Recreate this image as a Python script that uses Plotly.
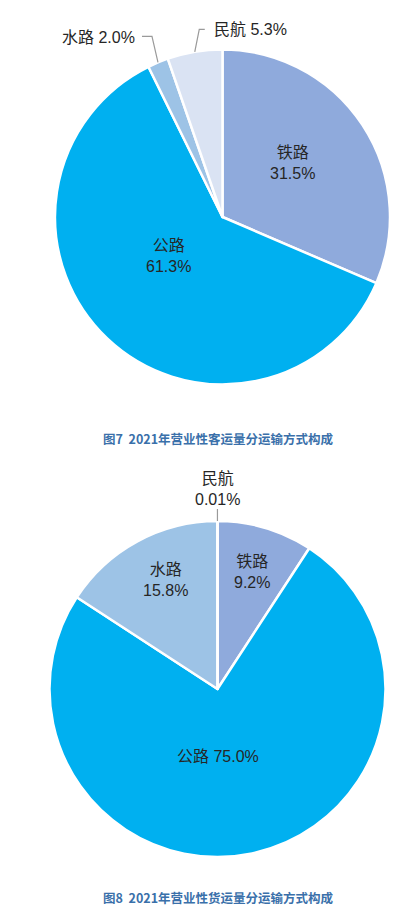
import math
import plotly.graph_objects as go

# ---------------- data ----------------
categories = ["铁路", "公路", "水路", "民航"]
passenger_share = [31.5, 61.3, 2.0, 5.3]          # 图7 客运量构成 (%)
freight_share = [9.2, 75.0, 15.8, 0.01]           # 图8 货运量构成 (%)
passenger_pct_text = ["31.5%", "61.3%", "2.0%", "5.3%"]
freight_pct_text = ["9.2%", "75.0%", "15.8%", "0.01%"]
captions = ["图7\u00a0 2021年营业性客运量分运输方式构成",
            "图8\u00a0 2021年营业性货运量分运输方式构成"]

# ---------------- style / layout ----------------
W, H = 399, 907
colors = ["#8FAADC", "#00B0F0", "#9DC3E6", "#DAE3F3"]
TEXT_COLOR = "#262626"
LEADER_COLOR = "#9A9A9A"
CAPTION_COLOR = "#3A70AA"
FONT = "Arial, Liberation Sans, Noto Sans CJK SC, sans-serif"

PIES = [
    dict(cx=222.5, cy=217.0, r=167.5),
    dict(cx=217.5, cy=689.0, r=168.0),
]
CAPTION_Y = [438.0, 897.5]
CAPTION_X = 218.5


def px(x):
    return x / W


def py(y):
    return 1 - y / H


def mid_angles(values):
    total = sum(values)
    out, cum = [], 0.0
    for v in values:
        out.append((cum + v / 2) / total * 360.0)
        cum += v
    return out


def polar(pie, ang, frac):
    a = math.radians(ang)
    return (pie["cx"] + frac * pie["r"] * math.sin(a),
            pie["cy"] - frac * pie["r"] * math.cos(a))


# label placement specs (index -> style)
label_specs = [
    {
        0: dict(kind="in", frac=0.525, dang=-4.4, two_line=True),
        1: dict(kind="in", frac=0.40, dang=10.8, two_line=True),
        2: dict(kind="out", path=[(-6, -26), (-16, -26)], anchor="right", gap=5, dy=1),
        3: dict(kind="out", path=[(4.5, -22.5), (10, -22.5)], anchor="left", gap=7, dy=0),
    },
    {
        0: dict(kind="in", frac=0.727, dang=-0.3, two_line=True),
        1: dict(kind="in", frac=0.403, dang=11.2, two_line=False),
        2: dict(kind="in", frac=0.72, dang=2.8, two_line=True),
        3: dict(kind="out", path=[(0, -12)], anchor="center", gap=0, dy=-20),
    },
]

fig = go.Figure()
annotations = []
shapes = []

for pie, values, pct, specs in zip(PIES, [passenger_share, freight_share],
                                   [passenger_pct_text, freight_pct_text], label_specs):
    fig.add_trace(go.Pie(
        labels=categories,
        values=values,
        sort=False,
        direction="clockwise",
        rotation=0,
        textinfo="none",
        hoverinfo="label+percent",
        marker=dict(colors=colors, line=dict(color="white", width=2.5)),
        domain=dict(x=[px(pie["cx"] - pie["r"]), px(pie["cx"] + pie["r"])],
                    y=[py(pie["cy"] + pie["r"]), py(pie["cy"] - pie["r"])]),
        showlegend=False,
    ))
    mids = mid_angles(values)
    for i, spec in specs.items():
        if spec["kind"] == "in":
            x, y = polar(pie, mids[i] + spec["dang"], spec["frac"])
            sep = "<br>" if spec["two_line"] else " "
            annotations.append(dict(
                x=px(x), y=py(y), xref="paper", yref="paper",
                text=f"{categories[i]}{sep}{pct[i]}", showarrow=False,
                xanchor="center", yanchor="middle",
                font=dict(size=16, color=TEXT_COLOR, family=FONT)))
        else:
            sx, sy = polar(pie, mids[i], 1.0)
            pts = [(sx, sy)] + [(sx + dx, sy + dy) for dx, dy in spec["path"]]
            d = "M " + " L ".join(f"{px(a):.5f},{py(b):.5f}" for a, b in pts)
            shapes.append(dict(type="path", path=d, xref="paper", yref="paper",
                               line=dict(color=LEADER_COLOR, width=1.2)))
            ex, ey = pts[-1]
            if spec["anchor"] == "right":
                lx, txt = ex - spec["gap"], f"{categories[i]} {pct[i]}"
            elif spec["anchor"] == "left":
                lx, txt = ex + spec["gap"], f"{categories[i]} {pct[i]}"
            else:
                lx, txt = ex, f"{categories[i]}<br>{pct[i]}"
            annotations.append(dict(
                x=px(lx), y=py(ey + spec["dy"]), xref="paper", yref="paper",
                text=txt, showarrow=False,
                xanchor=spec["anchor"], yanchor="middle",
                font=dict(size=16, color=TEXT_COLOR, family=FONT)))

for cap, cy in zip(captions, CAPTION_Y):
    annotations.append(dict(
        x=px(CAPTION_X), y=py(cy), xref="paper", yref="paper",
        text=f"<b>{cap}</b>", showarrow=False, xanchor="center", yanchor="middle",
        font=dict(size=12.5, color=CAPTION_COLOR, family="Noto Sans CJK SC, sans-serif")))

fig.update_layout(
    width=W, height=H,
    margin=dict(l=0, r=0, t=0, b=0),
    paper_bgcolor="white", plot_bgcolor="white",
    annotations=annotations, shapes=shapes,
    showlegend=False,
)

fig.write_html(
    "out.html",
    config={"displayModeBar": False},
    post_script="document.body.style.margin='0px';document.body.style.overflow='hidden';",
)
